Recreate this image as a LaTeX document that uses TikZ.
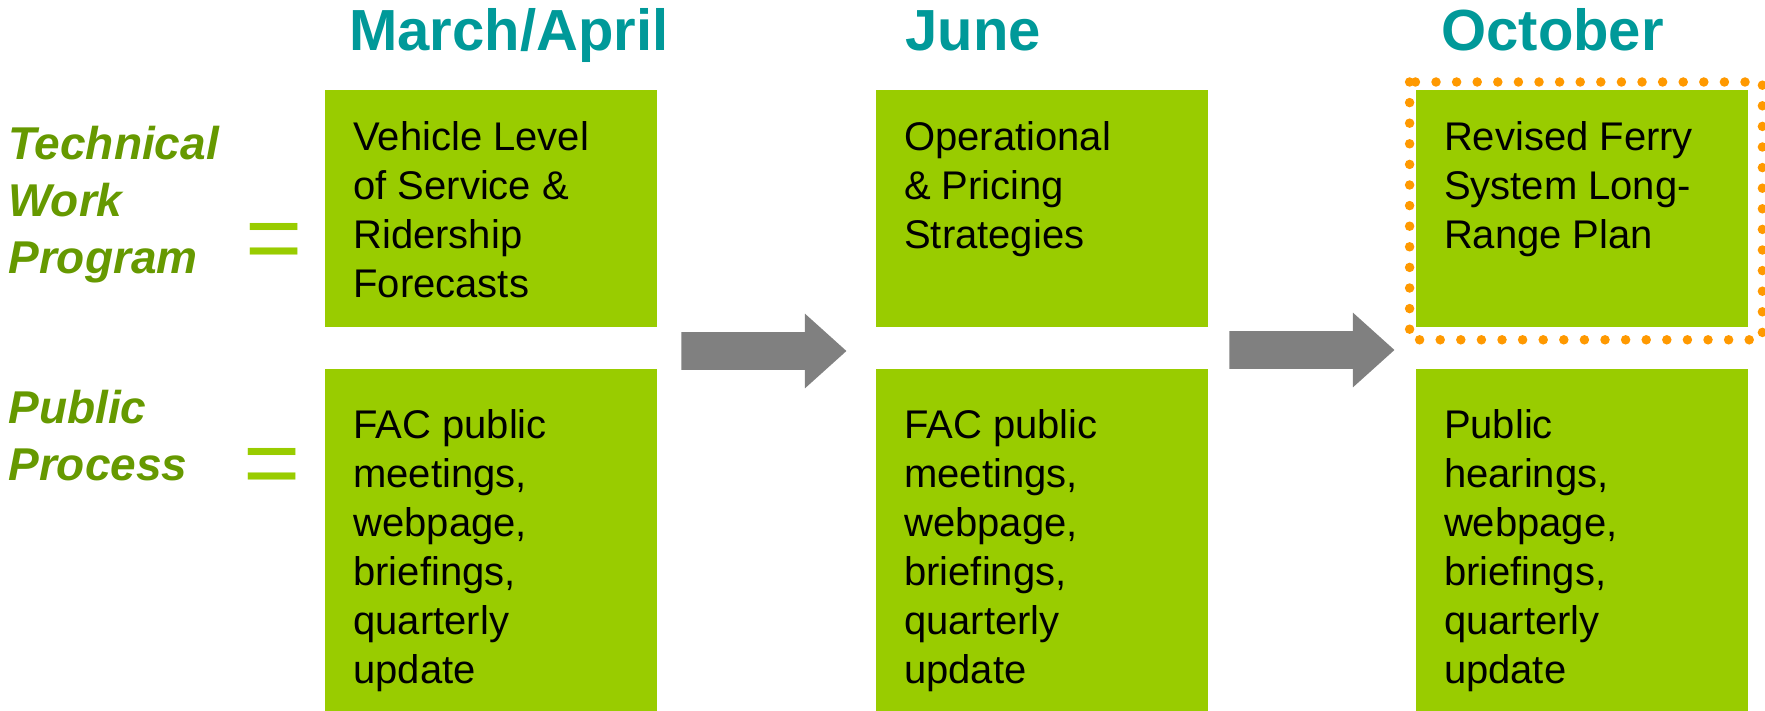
\documentclass[tikz,border=0pt]{standalone}
\usepackage{fontspec}
\setmainfont{Liberation Sans}
\usetikzlibrary{positioning,shapes.arrows}
\definecolor{boxgreen}{RGB}{153,204,0}
\definecolor{titleteal}{RGB}{0,153,153}
\definecolor{labelgreen}{RGB}{102,153,0}
\definecolor{arrowgray}{RGB}{128,128,128}
\definecolor{dotorange}{RGB}{255,153,0}

\begin{document}
\begin{tikzpicture}[x=0.5pt,y=-0.5pt,
    box/.style={rectangle,fill=boxgreen,inner sep=0pt,minimum width=166pt},
    topbox/.style={box,minimum height=118.5pt},
    lowbox/.style={box,minimum height=171.5pt},
    boxtext/.style={inner sep=0pt,align=left,anchor=north west,font=\fontsize{20}{24.5}\selectfont},
    month/.style={inner sep=0pt,anchor=base west,text=titleteal,font=\fontsize{29}{34}\selectfont\bfseries},
    rowlabel/.style={inner sep=0pt,anchor=north west,align=left,text=labelgreen,font=\fontsize{23}{28.5}\selectfont\bfseries\itshape},
    equals/.style={inner sep=0pt,anchor=base,text=boxgreen,font=\fontsize{49}{49}\selectfont},
    blockarrow/.style={single arrow,fill=arrowgray,inner xsep=0pt,inner ysep=9.25pt,anchor=tail,minimum height=82.5pt,single arrow head extend=9.25pt,single arrow tip angle=84},
    dotframe/.style={draw=dotorange,line width=4.75pt,line cap=round,dash pattern=on 0pt off 10.3pt}]

    \useasboundingbox (0,0) rectangle (1765,711);

    % boxes
    \node[topbox,anchor=north west] (vlos) at (325,90) {};
    \node[lowbox,below=20.5pt of vlos] (pubA) {};
    \node[topbox,right=109pt of vlos] (strat) {};
    \node[lowbox,below=20.5pt of strat] (pubB) {};
    \node[topbox,right=103.5pt of strat] (plan) {};
    \node[lowbox,below=20.5pt of plan] (pubC) {};

    % box texts
    \node[boxtext] (vlostxt) at ([xshift=14pt,yshift=-15.5pt]vlos.north west) {Vehicle Level\\of Service \&\\Ridership\\Forecasts};
    \node[boxtext] (strattxt) at ([xshift=14pt,yshift=-15.5pt]strat.north west) {Operational\\\& Pricing\\Strategies};
    \node[boxtext] (plantxt) at ([xshift=14pt,yshift=-15.5pt]plan.north west) {Revised Ferry\\System Long-\\Range Plan};
    \node[boxtext] (pubAtxt) at ([xshift=14pt,yshift=-20pt]pubA.north west) {FAC public\\meetings,\\webpage,\\briefings,\\quarterly\\update};
    \node[boxtext] (pubBtxt) at ([xshift=14pt,yshift=-20pt]pubB.north west) {FAC public\\meetings,\\webpage,\\briefings,\\quarterly\\update};
    \node[boxtext] (pubCtxt) at ([xshift=14pt,yshift=-20pt]pubC.north west) {Public\\hearings,\\webpage,\\briefings,\\quarterly\\update};

    % months
    \node[month] (marapr) at (349,51) {March/April};
    \node[month] (june) at (905,51) {June};
    \node[month] (october) at (1441,51) {October};

    % row labels
    \node[rowlabel] (techlbl) at (8,126) {Technical\\Work\\Program};
    \node[rowlabel] (publbl) at (8,390) {Public\\Process};
    \node[equals] (eqtech) at (274,271) {=};
    \node[equals] (eqpub) at (272,496) {=};

    % arrows between columns
    \node[blockarrow] (arrA) at (681,351) {};
    \node[blockarrow] (arrB) at (1229,350) {};

    % highlight
    \draw[dotframe] ([xshift=-3pt,yshift=4pt]plan.north west) rectangle ([xshift=7pt,yshift=-6pt]plan.south east);
\end{tikzpicture}
\end{document}
